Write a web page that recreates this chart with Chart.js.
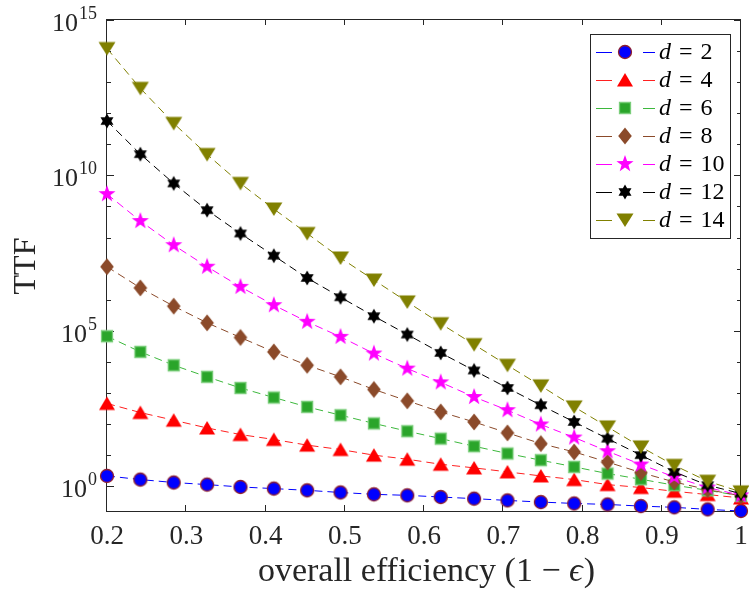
<!DOCTYPE html>
<html>
<head>
<meta charset="utf-8">
<title>TTF vs overall efficiency</title>
<script src="https://cdn.jsdelivr.net/npm/chart.js@4.4.0/dist/chart.umd.min.js"></script>
<style>
  body { margin: 0; background: #fff; }
  #wrap { width: 749px; height: 592px; }
</style>
</head>
<body>
<div id="wrap"><canvas id="ttf" width="749" height="592"></canvas></div>
<script>
// overall efficiency (1 - eps) at each point
const efficiency = [0.2000, 0.2421, 0.2842, 0.3263, 0.3684, 0.4105, 0.4526, 0.4947, 0.5368, 0.5789,
                    0.6211, 0.6632, 0.7053, 0.7474, 0.7895, 0.8316, 0.8737, 0.9158, 0.9579, 1.0000];

// TTF, one array per code distance
const ttfD2  = [2.15, 1.64, 1.32, 1.13, 0.95, 0.84, 0.74, 0.63, 0.55, 0.51, 0.45, 0.40, 0.35, 0.31, 0.28, 0.26, 0.23, 0.21, 0.18, 0.16];
const ttfD4  = [460, 235, 133, 75, 46, 32, 21, 15.2, 10, 7.4, 5.1, 3.9, 2.9, 2.15, 1.64, 1.13, 0.91, 0.69, 0.54, 0.42];
const ttfD6  = [6.7e4, 2.1e4, 7.8e3, 3.3e3, 1.45e3, 715, 357, 193, 105, 59, 34, 19.4, 11.3, 6.9, 4.2, 2.56, 1.68, 1.08, 0.74, 0.49];
const ttfD8  = [1.15e7, 2.4e6, 6.2e5, 1.8e5, 6.1e4, 2.1e4, 7.8e3, 3.3e3, 1.3e3, 560, 246, 117, 52, 23.6, 12.7, 6.0, 2.76, 1.37, 0.78, 0.49];
const ttfD10 = [2.5e9, 3.4e8, 5.7e7, 1.15e7, 2.6e6, 6.7e5, 1.95e5, 6.4e4, 1.86e4, 6.1e3, 2.2e3, 745, 280, 97, 37, 13.4, 5.0, 2.0, 0.91, 0.51];
const ttfD12 = [5.6e11, 4.8e10, 5.5e9, 7.6e8, 1.35e8, 2.6e7, 5.0e6, 1.2e6, 2.95e5, 7.6e4, 1.95e4, 5.3e3, 1.45e3, 405, 117, 34, 10, 2.9, 1.08, 0.58];
const ttfD14 = [1.2e14, 6.3e12, 4.7e11, 4.7e10, 5.5e9, 8.3e8, 1.35e8, 2.2e7, 4.3e6, 8.5e5, 1.7e5, 3.6e4, 7.8e3, 1.7e3, 357, 81, 18.4, 4.7, 1.45, 0.66];

const distances = [2, 4, 6, 8, 10, 12, 14];
const xTickValues = [0.2, 0.3, 0.4, 0.5, 0.6, 0.7, 0.8, 0.9, 1.0];
const yTickValues = [1e0, 1e1, 1e2, 1e3, 1e4, 1e5, 1e6, 1e7, 1e8, 1e9, 1e10, 1e11, 1e12, 1e13, 1e14, 1e15];
const yLabelExps = [0, 5, 10, 15];

const SERIF = '"Liberation Serif", "DejaVu Serif", serif';
const AXIS = '#262626';

// marker images, MATLAB-ish
function starPath(g, n, rOut, rIn) {
  for (let i = 0; i < 2 * n; i++) {
    const r = i % 2 ? rIn : rOut;
    const a = -Math.PI / 2 + i * Math.PI / n;
    if (i == 0) g.moveTo(r * Math.cos(a), r * Math.sin(a));
    else g.lineTo(r * Math.cos(a), r * Math.sin(a));
  }
}
function makeMarker(shape, fill, edge) {
  const c = document.createElement('canvas');
  c.width = 22; c.height = 22;
  const g = c.getContext('2d');
  g.translate(11, 11);
  g.beginPath();
  if (shape == 'circle') g.arc(0, 0, 6.5, 0, 2 * Math.PI);
  if (shape == 'triUp') { g.moveTo(0, -7); g.lineTo(8, 6.5); g.lineTo(-8, 6.5); }
  if (shape == 'triDown') { g.moveTo(0, 7); g.lineTo(8.5, -6.5); g.lineTo(-8.5, -6.5); }
  if (shape == 'square') g.rect(-5.5, -5.5, 11, 11);
  if (shape == 'diamond') { g.moveTo(0, -8.5); g.lineTo(6.8, 0); g.lineTo(0, 8.5); g.lineTo(-6.8, 0); }
  if (shape == 'pentagram') starPath(g, 5, 9, 3.6);
  if (shape == 'hexagram') starPath(g, 6, 7.5, 4.3);
  g.closePath();
  g.fillStyle = fill;
  g.fill();
  if (edge) { g.lineWidth = 1.3; g.strokeStyle = edge; g.stroke(); }
  return c;
}

const styles = [
  {line: '#0000FF', marker: makeMarker('circle', '#0000FF', '#8E1E2E')},
  {line: '#FF2020', marker: makeMarker('triUp', '#FF0000')},
  {line: '#3DB83D', marker: makeMarker('square', '#2AA52A', '#7ACD7A')},
  {line: '#8B4A2A', marker: makeMarker('diamond', '#8B4A2A')},
  {line: '#FF00FF', marker: makeMarker('pentagram', '#FF00FF')},
  {line: '#000000', marker: makeMarker('hexagram', '#000000')},
  {line: '#808000', marker: makeMarker('triDown', '#808000')}
];

const allTTF = [ttfD2, ttfD4, ttfD6, ttfD8, ttfD10, ttfD12, ttfD14];
const datasets = allTTF.map((vals, i) => ({
  label: 'd = ' + distances[i],
  data: vals.map((v, k) => ({x: efficiency[k], y: v})),
  borderColor: styles[i].line,
  backgroundColor: styles[i].line,
  borderWidth: 1,
  borderDash: [8, 5],
  pointStyle: styles[i].marker,
  pointRadius: 7,
  pointHoverRadius: 7,
  tension: 0,
  clip: false,
  order: 6 - i
}));

function expLabel(ctx, xRight, y, exp) {
  ctx.font = '18px ' + SERIF;
  ctx.textAlign = 'right';
  ctx.textBaseline = 'middle';
  const es = String(exp);
  const ew = ctx.measureText(es).width;
  ctx.fillText(es, xRight, y - 6);
  ctx.font = '26px ' + SERIF;
  ctx.fillText('10', xRight - ew - 1, y + 4);
}

const matlabAxes = {
  id: 'matlabAxes',
  beforeDatasetsDraw(chart) {
    const {ctx, chartArea: a, scales: {x, y}} = chart;
    ctx.save();
    ctx.strokeStyle = AXIS;
    ctx.lineWidth = 1;
    ctx.strokeRect(a.left - 0.5, a.top + 0.5, a.right - a.left, a.bottom - a.top);
    ctx.beginPath();
    x.ticks.forEach(t => {
      const px = Math.round(x.getPixelForValue(t.value)) - 0.5;
      ctx.moveTo(px, a.bottom); ctx.lineTo(px, a.bottom - 6);
      ctx.moveTo(px, a.top); ctx.lineTo(px, a.top + 6);
    });
    y.ticks.forEach(t => {
      const py = Math.round(y.getPixelForValue(t.value)) + 0.5;
      const major = yLabelExps.includes(Math.round(Math.log10(t.value)));
      const len = major ? 7 : 4;
      ctx.moveTo(a.left, py); ctx.lineTo(a.left + len, py);
      ctx.moveTo(a.right, py); ctx.lineTo(a.right - len, py);
    });
    ctx.stroke();
    ctx.restore();
  },
  afterDraw(chart) {
    const {ctx, chartArea: a, scales: {x, y}} = chart;
    ctx.save();
    ctx.fillStyle = AXIS;
    // x tick labels
    ctx.font = '27px ' + SERIF;
    ctx.textAlign = 'center';
    ctx.textBaseline = 'middle';
    x.ticks.forEach(t => {
      const lab = String(Number(t.value.toFixed(1)));
      ctx.fillText(lab, x.getPixelForValue(t.value), 537);
    });
    // y tick labels
    y.ticks.forEach(t => {
      const e = Math.round(Math.log10(t.value));
      if (yLabelExps.includes(e)) expLabel(ctx, 97, y.getPixelForValue(t.value), e);
    });
    // x title with italic epsilon
    const p1 = 'overall efficiency (1 \u2212 ', p2 = '\u03f5', p3 = ')';
    const fR = '34px ' + SERIF, fI = 'italic 34px ' + SERIF;
    ctx.font = fR; const w1 = ctx.measureText(p1).width, w3 = ctx.measureText(p3).width;
    ctx.font = fI; const w2 = ctx.measureText(p2).width;
    let sx = 426 - (w1 + w2 + w3) / 2;
    ctx.textAlign = 'left';
    ctx.font = fR; ctx.fillText(p1, sx, 572);
    ctx.font = fI; ctx.fillText(p2, sx + w1, 572);
    ctx.font = fR; ctx.fillText(p3, sx + w1 + w2 + 1, 572);
    // y title
    ctx.save();
    ctx.translate(27, 266);
    ctx.rotate(-Math.PI / 2);
    ctx.textAlign = 'center';
    ctx.font = '32px ' + SERIF;
    ctx.fillText('TTF', 0, 0);
    ctx.restore();

    // legend box
    const bx = 590.5, by = 34.5, bw = 140, bh = 204;
    ctx.fillStyle = '#fff';
    ctx.fillRect(bx, by, bw, bh);
    ctx.strokeStyle = AXIS;
    ctx.lineWidth = 1;
    ctx.strokeRect(bx, by, bw, bh);
    chart.data.datasets.forEach((ds, i) => {
      const ly = 52 + i * 28;
      ctx.strokeStyle = ds.borderColor;
      ctx.lineWidth = 1;
      ctx.beginPath();
      ctx.moveTo(596, ly + 0.5); ctx.lineTo(612, ly + 0.5);
      ctx.moveTo(643, ly + 0.5); ctx.lineTo(655, ly + 0.5);
      ctx.stroke();
      const m = ds.pointStyle;
      ctx.drawImage(m, 625 - m.width / 2, ly - m.height / 2);
      ctx.fillStyle = '#000';
      ctx.textAlign = 'left';
      ctx.textBaseline = 'middle';
      ctx.font = 'italic 24px ' + SERIF;
      ctx.fillText('d', 659, ly + 1);
      const dw = ctx.measureText('d').width;
      ctx.font = '24px ' + SERIF;
      ctx.fillText('=', 659 + dw + 8, ly + 1);
      const ew = ctx.measureText('=').width;
      ctx.fillText(String(distances[i]), 659 + dw + 8 + ew + 8, ly + 1);
    });
    ctx.restore();
  }
};

new Chart(document.getElementById('ttf'), {
  type: 'line',
  data: {datasets: datasets},
  options: {
    responsive: false,
    animation: false,
    layout: {padding: {left: 107, right: 2, top: 19, bottom: 81}},
    plugins: {legend: {display: false}, tooltip: {enabled: false}},
    scales: {
      x: {
        type: 'linear', display: false, min: 0.2, max: 1.0,
        afterBuildTicks: s => { s.ticks = xTickValues.map(v => ({value: v})); }
      },
      y: {
        type: 'logarithmic', display: false, min: 0.16, max: 1.07e15,
        afterBuildTicks: s => { s.ticks = yTickValues.map(v => ({value: v})); }
      }
    }
  },
  plugins: [matlabAxes]
});
</script>
</body>
</html>
